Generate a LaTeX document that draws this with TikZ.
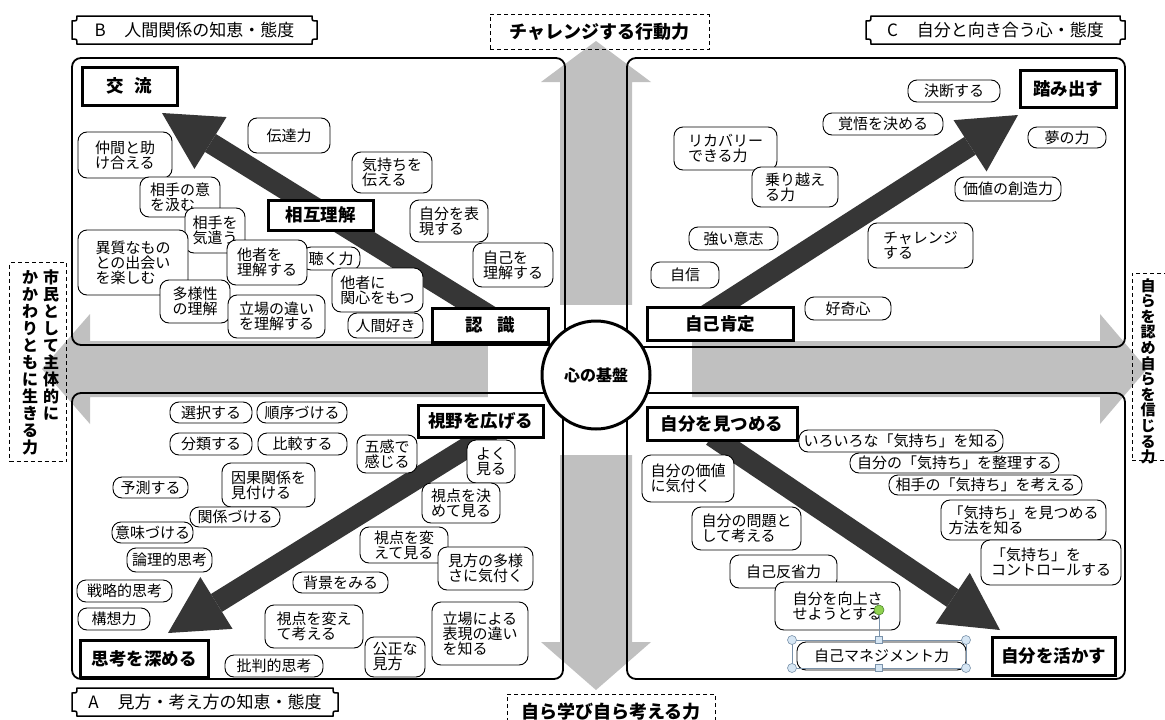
\documentclass[tikz,border=0pt]{standalone}
\usepackage{fontspec}
\setmainfont{Noto Sans CJK JP}
\usetikzlibrary{arrows.meta}
\definecolor{crossgray}{HTML}{C0C0C0}
\definecolor{arrowdark}{HTML}{363636}
\definecolor{handlefill}{HTML}{D6E6F4}
\definecolor{handleedge}{HTML}{7A92AA}
\definecolor{rotfill}{HTML}{8FD14F}
\definecolor{rotedge}{HTML}{4E8A2E}
\tikzset{
  bubble/.style={draw=black, line width=0.9pt, fill=white, rounded corners=9pt, inner sep=1pt, align=left, font=\fontsize{15}{15}\selectfont},
  keybox/.style={draw=black, line width=3pt, fill=white, inner sep=1pt, font=\fontsize{17.5}{18}\selectfont\bfseries},
  panel/.style={draw=black, line width=1.8pt, rounded corners=9pt},
  dashbox/.style={draw=black, line width=0.8pt, dash pattern=on 4pt off 3pt},
  bigarrow/.style={draw=arrowdark, line width=21pt, -{Triangle[length=57pt,width=61pt,line width=0pt]}},
  titletext/.style={font=\fontsize{17}{18}\selectfont},
  vtext/.style={align=center, inner sep=0pt, font=\fontsize{16}{17}\selectfont\bfseries},
  handlecirc/.style={circle, draw=handleedge, fill=handlefill, line width=0.6pt, minimum size=9pt, inner sep=0pt},
  handlesq/.style={rectangle, draw=handleedge, fill=handlefill, line width=0.6pt, minimum size=7pt, inner sep=0pt},
}
\newcommand\mybub[6]{\node[bubble, minimum width={(#4)-(#2)}, minimum height={(#5)-(#3)}] (#1) at ({((#2)+(#4))/2},{((#3)+(#5))/2}) {#6};}
\newcommand\mykbox[6]{\node[keybox, minimum width={(#4)-(#2)}, minimum height={(#5)-(#3)}] (#1) at ({((#2)+(#4))/2},{((#3)+(#5))/2}) {#6};}
\newcommand\myplaque[6]{%
  \draw[line width=1.5pt] ({#2+5},{#3}) -- ({#4-5},{#3}) .. controls ({#4-5},{#3+5}) .. ({#4},{#3+5}) -- ({#4},{#5-5}) .. controls ({#4-5},{#5-5}) .. ({#4-5},{#5}) -- ({#2+5},{#5}) .. controls ({#2+5},{#5-5}) .. ({#2},{#5-5}) -- ({#2},{#3+5}) .. controls ({#2+5},{#3+5}) .. ({#2+5},{#3}) -- cycle;
  \node[titletext] (#1) at ({((#2)+(#4))/2},{((#3)+(#5))/2}) {#6};}
\begin{document}
\begin{tikzpicture}[x=1pt,y=-1pt]
\useasboundingbox (0,0) rectangle (1165,720);
\fill[white] (0,0) rectangle (1165,720);
% gray cross
\fill[crossgray] (596,41) -- (651,82) -- (632,82) -- (632,341) -- (1100,341) -- (1100,314) -- (1147,369) -- (1100,424) -- (1100,397) -- (632,397) -- (632,642) -- (651,642) -- (596,690) -- (541,642) -- (560,642) -- (560,397) -- (90,397) -- (90,424) -- (42,369) -- (90,314) -- (90,341) -- (560,341) -- (560,82) -- (541,82) -- cycle;
\fill[white] (488,305) rectangle (692,455);
% panels
\draw[panel] (72,58) rectangle (565,345);
\draw[panel] (627,58) rectangle (1125,347);
\draw[panel] (72,393) rectangle (563,679);
\draw[panel] (627,393) rectangle (1125,679);
% titles
\myplaque{titleB}{72}{16}{317}{44}{B\hspace{1.1em}人間関係の知恵・態度}
\myplaque{titleC}{866}{16}{1125}{44}{C\hspace{1.1em}自分と向き合う心・態度}
\myplaque{titleA}{72}{688}{338}{716}{A\hspace{1.1em}見方・考え方の知恵・態度}
\node[dashbox, minimum width=219pt, minimum height=35pt, font=\fontsize{18}{18}\selectfont\bfseries] (topLbl) at (599.5,32) {チャレンジする行動力};
\node[dashbox, minimum width=208pt, minimum height=36pt, font=\fontsize{18}{18}\selectfont\bfseries] (botLbl) at (611,712) {自ら学び自ら考える力};
\node[dashbox, minimum width=57pt, minimum height=199pt] (leftBox) at (38,362) {};
\node[vtext, anchor=north] (leftCol1) at (51,270) {市\\民\\と\\し\\て\\主\\体\\的\\に};
\node[vtext, anchor=north] (leftCol2) at (30,270) {か\\か\\わ\\り\\と\\も\\に\\生\\き\\る\\力};
\node[dashbox, minimum width=40pt, minimum height=187pt] (rightBox) at (1152,366.5) {};
\node[vtext, anchor=north, font=\fontsize{15}{15.6}\selectfont\bfseries] (rightCol) at (1148,278) {自\\ら\\を\\認\\め\\自\\ら\\を\\信\\じ\\る\\力};
% big dark arrows
\coordinate (bTail) at (490,316); \coordinate (bTip) at (162,113);
\coordinate (cTail) at (705,316); \coordinate (cTip) at (1018,115);
\coordinate (aTail) at (492,432); \coordinate (aTip) at (168,633);
\coordinate (dTail) at (712,436); \coordinate (dTip) at (1000,630);
\draw[bigarrow] (bTail) -- (bTip);
\draw[bigarrow] (cTail) -- (cTip);
\draw[bigarrow] (aTail) -- (aTip);
\draw[bigarrow] (dTail) -- (dTip);
% center
\node[circle, draw=black, line width=3pt, fill=white, minimum size=108pt, inner sep=0pt, font=\fontsize{16}{16}\selectfont\bfseries] (core) at (596,375) {心の基盤};
% B panel
\mykbox{bKoryu}{82}{67}{177}{105}{交\hspace{0.6em}流}
\mybub{bDentatsu}{248}{118}{330}{153}{伝達力}
\mybub{bNakama}{78}{132}{172}{178}{仲間と助\\け合える}
\mybub{bKimochi}{352}{152}{432}{193}{気持ちを\\伝える}
\mybub{bIkumu}{140}{177}{220}{217}{相手の意\\を汲む}
\mykbox{bSogo}{268}{200}{373}{230}{相互理解}
\mybub{bHyogen}{410}{200}{488}{242}{自分を表\\現する}
\mybub{bKizukau}{185}{208}{245}{253}{相手を\\気遣う}
\mybub{bIshitsu}{78}{230}{188}{295}{異質なもの\\との出会い\\を楽しむ}
\mybub{bKiku}{302}{247}{360}{270}{聴く力}
\mybub{bTashaR}{227}{240}{307}{285}{他者を\\理解する}
\mybub{bJiko}{473}{243}{553}{287}{自己を\\理解する}
\mybub{bKanshin}{332}{268}{423}{312}{他者に\\関心をもつ}
\mybub{bTayo}{160}{280}{230}{323}{多様性\\の理解}
\mybub{bTachiba}{228}{295}{325}{338}{立場の違い\\を理解する}
\mybub{bNingen}{348}{313}{423}{338}{人間好き}
\mykbox{bNinshiki}{432}{308}{548}{342}{認\hspace{0.8em}識}
% C panel
\mybub{cKetsudan}{908}{80}{1000}{102}{決断する}
\mykbox{cFumidasu}{1020}{70}{1116}{107}{踏み出す}
\mybub{cKakugo}{823}{113}{943}{135}{覚悟を決める}
\mybub{cYume}{1028}{127}{1106}{148}{夢の力}
\mybub{cRecovery}{674}{127}{777}{170}{リカバリー\\できる力}
\mybub{cNorikoe}{752}{167}{838}{207}{乗り越え\\る力}
\mybub{cKachi}{955}{177}{1061}{201}{価値の創造力}
\mybub{cIshi}{689}{227}{778}{250}{強い意志}
\mybub{cChallenge}{868}{223}{973}{268}{チャレンジ\\する}
\mybub{cJishin}{651}{262}{719}{288}{自信}
\mybub{cKoki}{805}{297}{891}{320}{好奇心}
\mykbox{cJiko}{647}{307}{793}{340}{自己肯定}
% A panel
\mybub{aSentaku}{170}{402}{252}{423}{選択する}
\mybub{aJunjo}{257}{402}{347}{423}{順序づける}
\mykbox{aShiya}{418}{405}{543}{437}{視野を広げる}
\mybub{aBunrui}{170}{433}{252}{455}{分類する}
\mybub{aHikaku}{258}{433}{347}{455}{比較する}
\mybub{aGokan}{357}{435}{417}{473}{五感で\\感じる}
\node[bubble, align=center, minimum width=48pt, minimum height=43pt] (aYoku) at (491,461.5) {よく\\見る};
\mybub{aYosoku}{113}{477}{188}{498}{予測する}
\mybub{aInga}{222}{463}{315}{507}{因果関係を\\見付ける}
\mybub{aKimete}{422}{483}{500}{523}{視点を決\\めて見る}
\mybub{aKankei}{190}{507}{280}{527}{関係づける}
\mybub{aImi}{112}{522}{193}{543}{意味づける}
\mybub{aKaete}{360}{527}{448}{563}{視点を変\\えて見る}
\mybub{aRonri}{127}{548}{212}{572}{論理的思考}
\mybub{aMikata}{438}{547}{533}{590}{見方の多様\\さに気付く}
\mybub{aHaikei}{293}{572}{388}{593}{背景をみる}
\mybub{aSenryaku}{77}{580}{172}{602}{戦略的思考}
\mybub{aKoso}{78}{608}{150}{630}{構想力}
\mybub{aKaeteK}{265}{605}{363}{648}{視点を変え\\て考える}
\mybub{aTachiba}{432}{602}{528}{665}{立場による\\表現の違い\\を知る}
\mybub{aKosei}{365}{637}{425}{677}{公正な\\見方}
\mykbox{aShiko}{80}{640}{208}{677}{思考を深める}
\mybub{aHihan}{225}{655}{323}{677}{批判的思考}
% D panel
\mykbox{dMitsumeru}{647}{407}{797}{440}{自分を見つめる}
\mybub{dIroiro}{799}{430}{1003}{452}{いろいろな「気持ち」を知る}
\mybub{dSeiri}{850}{453}{1059}{473}{自分の「気持ち」を整理する}
\mybub{dKachi}{642}{455}{734}{502}{自分の価値\\に気付く}
\mybub{dAite}{889}{475}{1082}{495}{相手の「気持ち」を考える}
\mybub{dHoho}{941}{500}{1106}{540}{「気持ち」を見つめる\\方法を知る}
\mybub{dMondai}{692}{507}{801}{550}{自分の問題と\\して考える}
\mybub{dControl}{981}{540}{1121}{585}{「気持ち」を\\コントロールする}
\mybub{dHansei}{730}{555}{837}{588}{自己反省力}
\mybub{dKojo}{775}{582}{900}{630}{自分を向上さ\\せようとする}
\mybub{dManage}{797}{642}{966}{670}{自己マネジメント力}
\mykbox{dIkasu}{992}{637}{1115}{675}{自分を活かす}
% selection handles
\draw[handleedge, line width=0.8pt] (792,640) rectangle (966,668);
\node[handlecirc] (hTL) at (792,640) {};
\node[handlecirc] (hTR) at (966,640) {};
\node[handlecirc] (hBL) at (792,668) {};
\node[handlecirc] (hBR) at (966,668) {};
\node[handlesq] (hT) at (879,640) {};
\node[handlesq] (hB) at (879,668) {};
\node[circle, draw=rotedge, fill=rotfill, line width=0.6pt, minimum size=10pt, inner sep=0pt] (hRot) at (879,610) {};
\draw[handleedge, line width=0.8pt] (hRot) -- (hT);
\end{tikzpicture}
\end{document}
